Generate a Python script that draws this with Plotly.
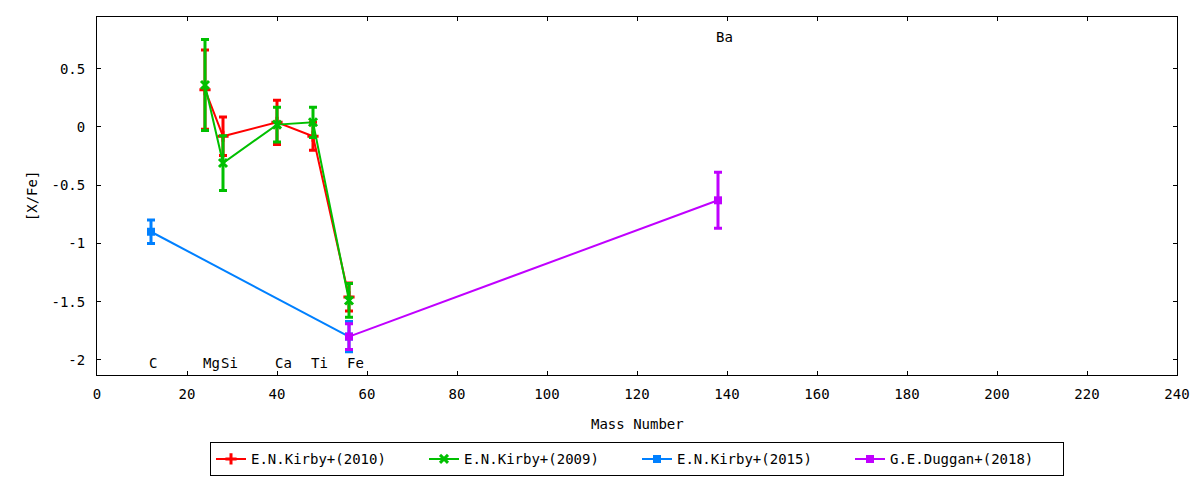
import plotly.graph_objects as go

# abundance ratios vs mass number
kirby2010_mass = [24, 28, 40, 48, 56]
kirby2010_val = [0.32, -0.08, 0.04, -0.08, -1.46]
kirby2010_err = [0.34, 0.165, 0.19, 0.12, 0.12]

kirby2009_mass = [24, 28, 40, 48, 56]
kirby2009_val = [0.36, -0.31, 0.02, 0.04, -1.49]
kirby2009_err = [0.39, 0.235, 0.15, 0.13, 0.145]

kirby2015_mass = [12, 56]
kirby2015_val = [-0.90, -1.80]
kirby2015_err = [0.10, 0.13]

duggan2018_mass = [56, 138]
duggan2018_val = [-1.80, -0.63]
duggan2018_err = [0.11, 0.24]

elem_names = ["C", "Mg", "Si", "Ca", "Ti", "Fe", "Ba"]
elem_mass = [12, 24, 28, 40, 48, 56, 138]
elem_label_y = [-2.03, -2.03, -2.03, -2.03, -2.03, -2.03, 0.77]

FONT = "DejaVu Sans Mono"
FS = 14

series = [
    ("E.N.Kirby+(2010)", kirby2010_mass, kirby2010_val, kirby2010_err, "#ff0000", "cross-thin"),
    ("E.N.Kirby+(2009)", kirby2009_mass, kirby2009_val, kirby2009_err, "#00c000", "x-thin"),
    ("E.N.Kirby+(2015)", kirby2015_mass, kirby2015_val, kirby2015_err, "#0080ff", "square"),
    ("G.E.Duggan+(2018)", duggan2018_mass, duggan2018_val, duggan2018_err, "#c000ff", "square"),
]

fig = go.Figure()
for name, xs, ys, es, col, sym in series:
    thin = sym.endswith("-thin")
    fig.add_trace(go.Scatter(
        x=xs, y=ys, name=name, mode="lines+markers",
        line=dict(color=col, width=2),
        marker=dict(symbol=sym, size=8, color=col,
                    line=dict(color=col, width=3 if thin else 0)),
        error_y=dict(type="data", array=es, visible=True, color=col,
                     thickness=3, width=4),
    ))

for n, m, yy in zip(elem_names, elem_mass, elem_label_y):
    fig.add_annotation(x=m, y=yy, text=n, showarrow=False, xanchor="left",
                       xshift=-4, font=dict(family=FONT, size=FS, color="black"))

# axis titles placed by hand (gnuplot-like positions)
fig.add_annotation(xref="paper", yref="paper", x=0.5, y=-0.137, yanchor="middle",
                   text="Mass Number", showarrow=False,
                   font=dict(family=FONT, size=FS, color="black"))
fig.add_annotation(xref="paper", yref="paper", x=-0.06, y=0.5, xanchor="center",
                   yanchor="middle", textangle=-90,
                   text="[X/Fe]", showarrow=False,
                   font=dict(family=FONT, size=FS, color="black"))

axis_common = dict(
    showline=True, linecolor="black", linewidth=1, mirror="allticks",
    ticks="inside", ticklen=4, tickcolor="black", showgrid=False,
    zeroline=False, automargin=False,
    tickfont=dict(family=FONT, size=FS, color="black"),
)

fig.update_xaxes(range=[0, 240], tickvals=list(range(0, 241, 20)),
                 ticklabelstandoff=6, **axis_common)
fig.update_yaxes(
    range=[-2.13, 0.944], tickvals=[-2, -1.5, -1, -0.5, 0, 0.5],
    ticktext=["-2", "-1.5", "-1", "-0.5", "0", "0.5"],
    ticklabelstandoff=8,
    **axis_common,
)

fig.update_layout(
    width=1200, height=480,
    margin=dict(l=97, r=23, t=17, b=105, autoexpand=False),
    plot_bgcolor="white", paper_bgcolor="white",
    font=dict(family=FONT, size=FS, color="black"),
    showlegend=True,
    legend=dict(orientation="h", x=0.5, xanchor="center", y=-0.283, yanchor="bottom",
                bordercolor="black", borderwidth=1, bgcolor="white",
                entrywidth=168, entrywidthmode="pixels", itemwidth=30,
                font=dict(family=FONT, size=FS, color="black")),
)

# page body has a default 8px margin; drop it so the figure fills the window
fig.write_html("out.html", config={"displayModeBar": False},
               post_script="document.body.style.margin='0';")
